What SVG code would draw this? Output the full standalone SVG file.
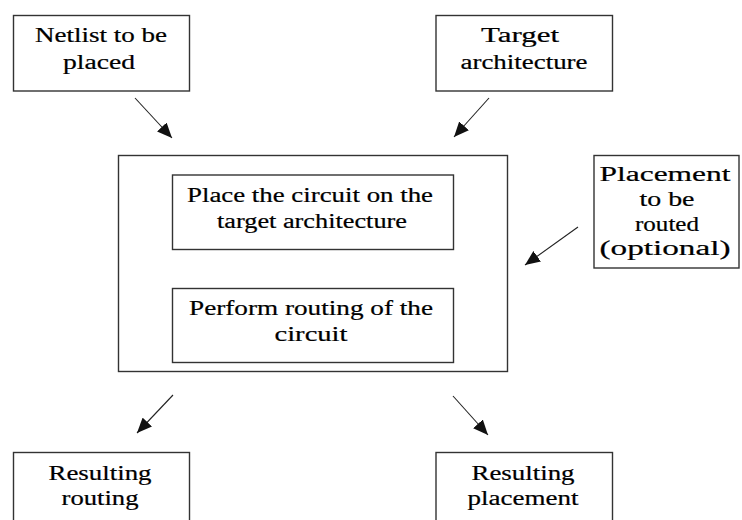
<svg xmlns="http://www.w3.org/2000/svg" width="742" height="520" viewBox="0 0 742 520">
<style>
.box{fill:#fff;stroke:#333;stroke-width:1.4}
.t{font-family:"Liberation Serif",serif;font-size:20px;fill:#000;stroke:#000;stroke-width:0.2;text-anchor:middle}
.c{stroke:#222;stroke-width:1.1;fill:none}
</style>
<defs>
<marker id="ah" markerUnits="userSpaceOnUse" markerWidth="16" markerHeight="14" refX="15" refY="7" orient="auto">
<path d="M0,0.5 L15,7 L0,13.5 Z" fill="#111"/>
</marker>
</defs>
<rect width="742" height="520" fill="#fff"/>
<g id="netlist">
<rect class="box" x="13.5" y="15.5" width="176" height="75.5"/>
<text class="t" x="101" y="42" textLength="132" lengthAdjust="spacingAndGlyphs">Netlist to be</text>
<text class="t" x="99" y="68.5" textLength="72" lengthAdjust="spacingAndGlyphs">placed</text>
</g>
<g id="target">
<rect class="box" x="436" y="15.5" width="176.5" height="75.5"/>
<text class="t" x="520" y="42" textLength="78" lengthAdjust="spacingAndGlyphs">Target</text>
<text class="t" x="524" y="68.5" textLength="127" lengthAdjust="spacingAndGlyphs">architecture</text>
</g>
<g id="main">
<rect class="box" x="118.5" y="155.5" width="389" height="216"/>
</g>
<g id="place">
<rect class="box" x="172.5" y="175" width="281" height="74.5"/>
<text class="t" x="310" y="202" textLength="246" lengthAdjust="spacingAndGlyphs">Place the circuit on the</text>
<text class="t" x="312" y="228" textLength="190" lengthAdjust="spacingAndGlyphs">target architecture</text>
</g>
<g id="route">
<rect class="box" x="172.5" y="288.5" width="281" height="74"/>
<text class="t" x="311" y="315" textLength="244" lengthAdjust="spacingAndGlyphs">Perform routing of the</text>
<text class="t" x="311" y="341" textLength="73" lengthAdjust="spacingAndGlyphs">circuit</text>
</g>
<g id="placement">
<rect class="box" x="594" y="155.5" width="145" height="112.5"/>
<text class="t" x="665" y="181" textLength="131" lengthAdjust="spacingAndGlyphs">Placement</text>
<text class="t" x="667" y="206" textLength="55" lengthAdjust="spacingAndGlyphs">to be</text>
<text class="t" x="667" y="231" textLength="64" lengthAdjust="spacingAndGlyphs">routed</text>
<text class="t" x="665" y="255" textLength="131" lengthAdjust="spacingAndGlyphs">(optional)</text>
</g>
<g id="res-routing">
<rect class="box" x="13.5" y="452.5" width="176" height="80"/>
<text class="t" x="100" y="480" textLength="103" lengthAdjust="spacingAndGlyphs">Resulting</text>
<text class="t" x="100" y="505" textLength="77" lengthAdjust="spacingAndGlyphs">routing</text>
</g>
<g id="res-placement">
<rect class="box" x="436" y="452.5" width="176.5" height="80"/>
<text class="t" x="523" y="480" textLength="103" lengthAdjust="spacingAndGlyphs">Resulting</text>
<text class="t" x="523" y="505" textLength="111" lengthAdjust="spacingAndGlyphs">placement</text>
</g>
<g id="connectors">
<line class="c" x1="135" y1="98" x2="172" y2="138" marker-end="url(#ah)"/>
<line class="c" x1="489" y1="98" x2="454" y2="137" marker-end="url(#ah)"/>
<line class="c" x1="578" y1="227" x2="525" y2="265" marker-end="url(#ah)"/>
<line class="c" x1="173" y1="395" x2="137" y2="433" marker-end="url(#ah)"/>
<line class="c" x1="453" y1="396" x2="488" y2="435" marker-end="url(#ah)"/>
</g>
</svg>
